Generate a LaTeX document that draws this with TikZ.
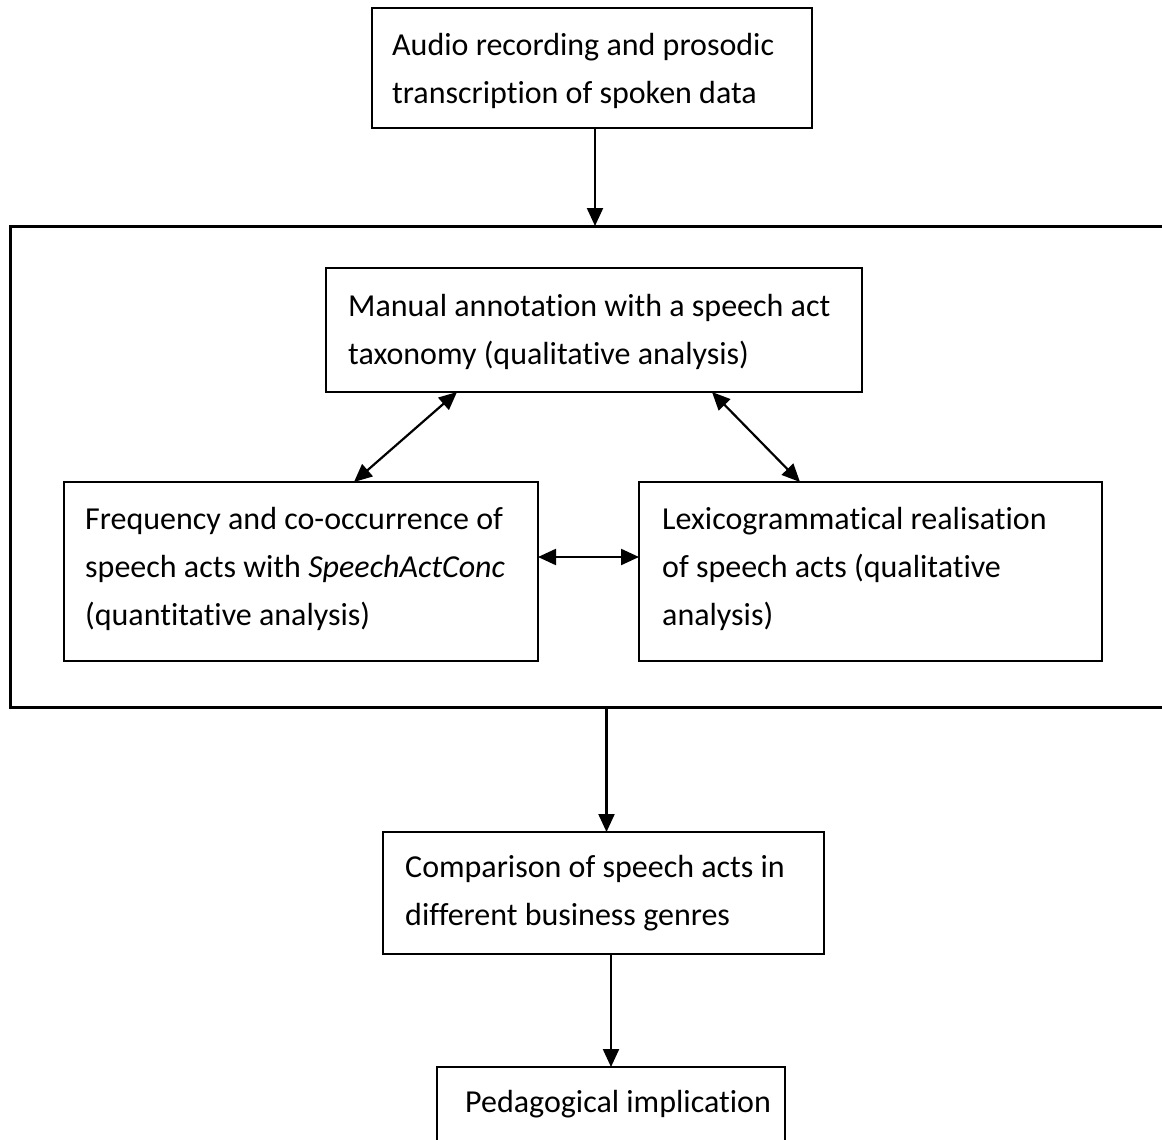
\documentclass[tikz,border=0pt]{standalone}
\usepackage{fontspec}
\setmainfont{Carlito}[RawFeature={-liga}]
\usetikzlibrary{arrows.meta}
\begin{document}
\begin{tikzpicture}[x=1pt,y=-1pt,
  box/.style={draw=black, line width=1.6pt, rectangle, inner sep=0pt, outer sep=0pt, anchor=north west},
  txt/.style={anchor=base west, inner sep=0pt, font=\fontsize{32}{48}\selectfont},
  arr/.style={line width=2.2pt, -{Triangle[length=18pt,width=16pt]}},
  dbl/.style={line width=2.2pt, {Triangle[length=18pt,width=16pt]}-{Triangle[length=18pt,width=16pt]}}
]
\clip (0,0) rectangle (1162,1140);
\fill[white] (0,0) rectangle (1162,1140);

% boxes
\node[box, minimum width=440pt, minimum height=120pt] (top) at (372,8) {};
\node[box, line width=3pt, minimum width=1175pt, minimum height=481pt] (group) at (10,226) {};
\node[box, minimum width=536pt, minimum height=124pt] (manual) at (326,268) {};
\node[box, minimum width=474pt, minimum height=179pt] (freq) at (64,482) {};
\node[box, minimum width=463pt, minimum height=179pt] (lex) at (639,482) {};
\node[box, minimum width=441pt, minimum height=122pt] (comp) at (383,832) {};
\node[box, minimum width=348pt, minimum height=120pt] (ped) at (437,1067) {};

% texts
\node[txt, xshift=20pt, yshift=-48pt] (topT) at (top.north west)
  {\begin{tabular}[t]{@{}l@{}}Audio recording and prosodic\\transcription of spoken data\end{tabular}};
\node[txt, xshift=22pt, yshift=-48pt] (manualT) at (manual.north west)
  {\begin{tabular}[t]{@{}l@{}}Manual annotation with a speech act\\taxonomy (qualitative analysis)\end{tabular}};
\node[txt, xshift=21pt, yshift=-47pt] (freqT) at (freq.north west)
  {\begin{tabular}[t]{@{}l@{}}Frequency and co-occurrence of\\speech acts with \textit{SpeechActConc}\\(quantitative analysis)\end{tabular}};
\node[txt, xshift=23pt, yshift=-47pt] (lexT) at (lex.north west)
  {\begin{tabular}[t]{@{}l@{}}Lexicogrammatical realisation\\of speech acts (qualitative\\analysis)\end{tabular}};
\node[txt, xshift=22pt, yshift=-45pt] (compT) at (comp.north west)
  {\begin{tabular}[t]{@{}l@{}}Comparison of speech acts in\\different business genres\end{tabular}};
\node[txt, xshift=28pt, yshift=-45pt] (pedT) at (ped.north west)
  {Pedagogical implication};

% connectors
\draw[arr] ([xshift=3pt]top.south) -- ([xshift=3pt]top.south |- group.north);
\draw[dbl] ([xshift=131pt]manual.south west) -- ([xshift=290pt]freq.north west);
\draw[dbl] ([xshift=386pt]manual.south west) -- ([xshift=161pt]lex.north west);
\draw[dbl] ([yshift=-75pt]freq.north east) -- ([yshift=-75pt]lex.north west);
\draw[arr] ([xshift=3pt]comp.north |- group.south) -- ([xshift=3pt]comp.north);
\draw[arr] (ped.north |- comp.south) -- (ped.north);
\end{tikzpicture}
\end{document}
